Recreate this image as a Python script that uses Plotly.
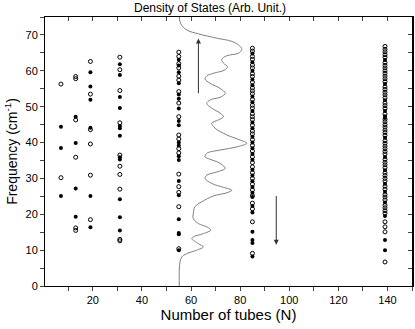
# phonon frequencies vs number of tubes, with density of states curve

import plotly.graph_objects as go

# N = 7
n7_open = [56.3, 30.2]
n7_filled = [44.4, 38.5, 25.1]

# N = 13
n13_open = [58.4, 57.8, 46.3, 35.9, 16.2, 15.5]
n13_filled = [47.2, 39.9, 27.2, 19.3]

# N = 19
n19_open = [62.6, 53.5, 43.6, 39.6, 30.9, 18.5]
n19_filled = [59.6, 55.6, 51.9, 44.1, 25.1, 16.4]

# N = 31
n31_open = [63.8, 60.3, 54.5, 45.5, 36.5, 33.4, 31.1, 27.0, 13.0, 12.6]
n31_filled = [61.8, 58.8, 52.7, 49.6, 44.6, 44.0, 41.9, 35.9, 35.3, 24.2, 19.2, 15.5]

# N = 55
n55_open = [65.2, 64.0, 62.0, 60.8, 58.5, 57.4, 54.2, 51.0, 47.2, 42.1, 41.0,
            38.3, 37.1, 31.2, 27.7, 26.1, 22.1, 10.4]
n55_filled = [63.1, 61.5, 59.6, 56.5, 53.4, 52.2, 49.5, 46.0, 44.8, 40.0, 39.2,
              36.2, 35.1, 29.3, 25.3, 18.6, 14.8, 14.4, 10.0]

# N = 85
n85_open = [66.3, 65.5, 64.0, 63.2, 61.6, 60.8, 59.2, 58.4, 56.8, 55.2, 54.4,
            53.6, 52.0, 50.4, 49.6, 48.0, 47.2, 46.4, 44.8, 43.2, 42.4, 40.8,
            39.2, 37.6, 36.0, 34.4, 33.2, 31.6, 30.0, 28.4, 26.8, 25.2, 23.1,
            21.5, 17.9, 9.1]
n85_filled = [64.8, 62.4, 60.0, 57.6, 56.0, 52.8, 51.2, 48.8, 45.6, 44.0, 41.6,
              40.0, 38.4, 36.8, 35.2, 32.4, 30.8, 29.2, 27.6, 26.0, 24.8, 22.3,
              20.5, 15.1, 12.8, 12.0, 8.2]

# N = 139
n139_open = [66.8, 66.0, 65.3, 64.5, 63.8, 62.3, 61.5, 60.8, 60.0, 59.3, 58.5,
             57.8, 57.0, 55.5, 54.8, 54.0, 53.3, 52.5, 51.0, 50.3, 49.5, 48.0,
             46.5, 45.8, 45.0, 44.3, 43.5, 42.8, 42.0, 40.5, 39.8, 39.0, 38.3,
             37.5, 36.8, 35.3, 34.5, 33.8, 33.0, 31.5, 30.8, 30.0, 29.3, 27.8,
             27.0, 25.5, 24.8, 24.0, 22.5, 21.8, 21.0, 20.3, 17.9, 16.5, 15.1,
             6.7]
n139_filled = [63.0, 56.3, 51.8, 48.8, 47.3, 46.9, 41.3, 36.0, 32.3, 28.5, 26.3,
               23.3, 19.5, 12.8, 10.0]

columns = [
    (7, n7_open, n7_filled),
    (13, n13_open, n13_filled),
    (19, n19_open, n19_filled),
    (31, n31_open, n31_filled),
    (55, n55_open, n55_filled),
    (85, n85_open, n85_filled),
    (139, n139_open, n139_filled),
]

# density of states curve (x = 55 + DOS, arb. units)
dos_x = [55.2, 55.8, 58.2, 63.0, 70.5, 76.6, 79.7, 80.7, 79.3, 74.6, 72.5, 73.2,
         74.8, 73.9, 69.1, 66.4, 65.7, 67.8, 71.8, 73.9, 71.8, 67.8, 66.4, 68.4,
         71.8, 73.2, 71.1, 68.4, 69.8, 74.6, 80.0, 82.7, 78.7, 71.8, 66.4, 65.7,
         67.1, 71.8, 73.9, 70.5, 66.4, 65.7, 68.4, 73.2, 76.6, 74.6, 69.1, 64.4,
         61.6, 60.9, 60.9, 63.0, 66.4, 68.0, 65.0, 60.9, 60.3, 63.0, 65.0, 62.3,
         58.2, 56.2, 55.5, 55.2, 55.2]
dos_y = [75.0, 73.1, 71.4, 70.3, 69.1, 68.2, 67.0, 66.0, 64.9, 64.2, 63.2, 62.1,
         61.2, 60.3, 59.3, 58.6, 57.7, 56.5, 55.1, 53.7, 52.6, 51.9, 50.9, 49.6,
         48.2, 47.2, 46.3, 45.4, 44.0, 42.1, 40.7, 39.8, 38.8, 37.9, 37.0, 36.0,
         35.5, 34.2, 32.8, 31.8, 30.9, 30.0, 28.6, 27.5, 26.7, 26.0, 25.1, 23.5,
         22.1, 20.2, 18.8, 17.4, 16.5, 15.6, 14.6, 13.7, 13.2, 11.8, 10.9, 10.0,
         9.0, 8.1, 6.7, 4.4, 0.0]

fig = go.Figure()

fig.add_trace(go.Scatter(x=dos_x, y=dos_y, mode='lines',
                         line=dict(color='#7f7f7f', width=1, shape='spline'),
                         hoverinfo='skip'))

for n, op, fi in columns:
    fig.add_trace(go.Scatter(x=[n] * len(op), y=op, mode='markers',
                             marker=dict(symbol='circle-open', size=4, color='black',
                                         line=dict(width=1, color='black'))))
    fig.add_trace(go.Scatter(x=[n] * len(fi), y=fi, mode='markers',
                             marker=dict(symbol='circle', size=4, color='black')))

# dummy trace so the top / right axes get drawn
fig.add_trace(go.Scatter(x=[None], y=[None], xaxis='x2', yaxis='y2'))

font = 'Liberation Sans, Arial, sans-serif'
axis_common = dict(showline=True, linecolor='black', linewidth=1,
                   showgrid=False, zeroline=False, automargin=False)

fig.update_layout(
    width=415, height=329,
    margin=dict(l=45, r=3, t=17, b=43),
    plot_bgcolor='white', paper_bgcolor='white',
    showlegend=False,
    font=dict(family=font, size=11, color='black'),
    xaxis=dict(range=[0.5, 150], dtick=20, tick0=0, ticks='outside', ticklen=4,
               minor=dict(dtick=10, ticks='outside', ticklen=4),
               title=dict(text='Number of tubes (N)', font=dict(size=15), standoff=1),
               **axis_common),
    yaxis=dict(range=[0, 75], dtick=10, ticks='outside', ticklen=4,
               minor=dict(dtick=5, ticks='outside', ticklen=4),
               title=dict(text='Frequency (cm<sup>-1</sup>)', font=dict(size=14), standoff=4),
               **axis_common),
    xaxis2=dict(range=[0.5, 150], overlaying='x', side='top', dtick=20, tick0=0,
                ticks='inside', ticklen=4, showticklabels=False,
                minor=dict(dtick=10, ticks='inside', ticklen=4), **axis_common),
    yaxis2=dict(range=[0, 75], overlaying='y', side='right', dtick=10,
                ticks='inside', ticklen=4, showticklabels=False,
                minor=dict(dtick=5, ticks='inside', ticklen=4),
                showline=True, linecolor='black', linewidth=2,
                showgrid=False, zeroline=False, automargin=False),
)

fig.add_annotation(text='Density of States (Arb. Unit.)', xref='paper', yref='paper',
                   x=0.45, y=1.034, showarrow=False, yanchor='middle',
                   font=dict(size=12, color='black'))

# arrows
fig.add_annotation(x=63, y=69.0, ax=63, ay=53.3, xref='x', yref='y', axref='x', ayref='y',
                   showarrow=True, arrowhead=2, arrowsize=1, arrowwidth=1,
                   arrowcolor='#333333', text='')
fig.add_annotation(x=94.7, y=11.5, ax=94.7, ay=25.5, xref='x', yref='y', axref='x', ayref='y',
                   showarrow=True, arrowhead=2, arrowsize=1, arrowwidth=1,
                   arrowcolor='#333333', text='')

# drop the default 8px page margin so the figure fills the window
fig.write_html("out.html", config={'displayModeBar': False},
               post_script="document.body.style.margin = '0';")
